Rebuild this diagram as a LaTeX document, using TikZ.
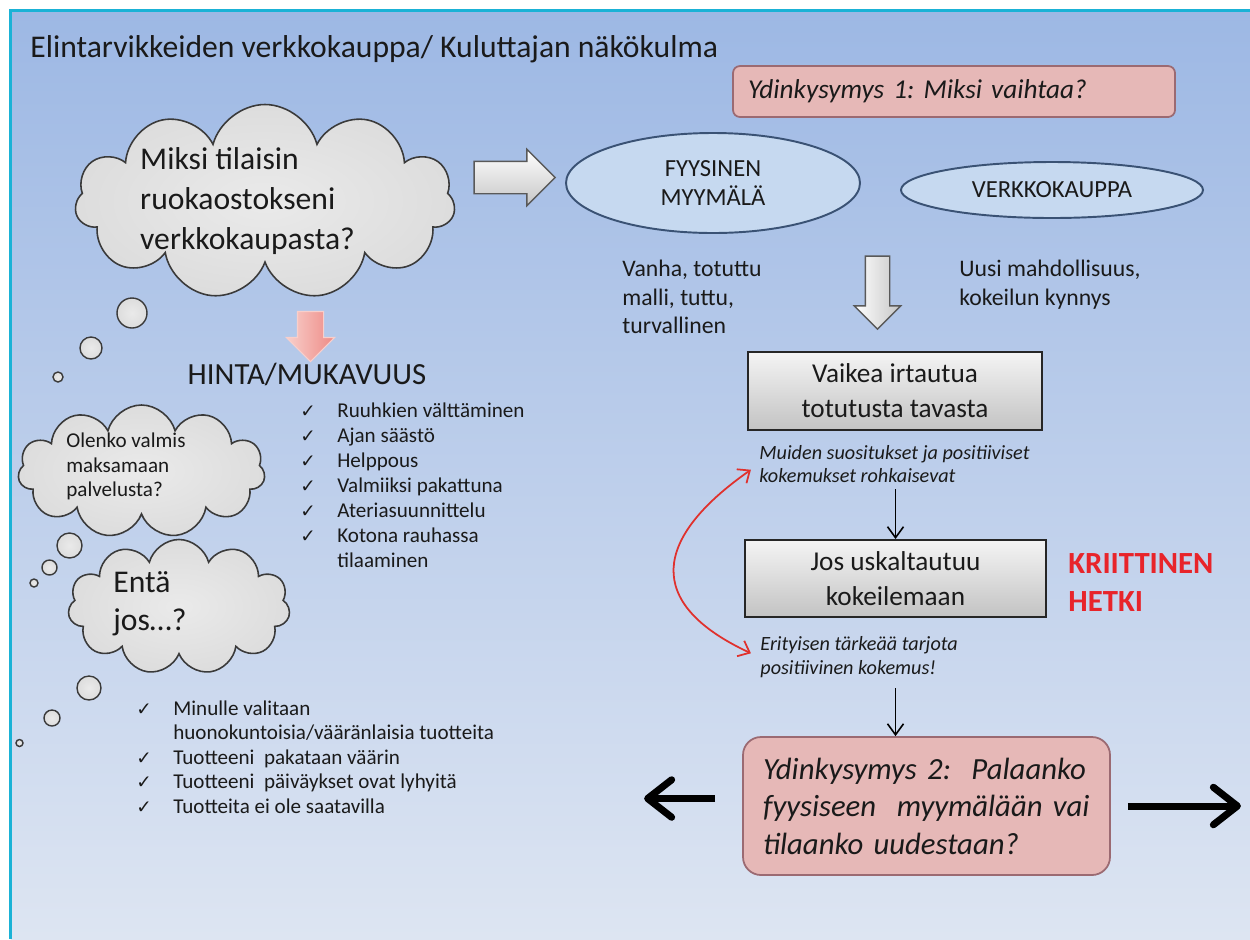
\documentclass[tikz,border=0pt]{standalone}
\usepackage{fontspec}
\setmainfont{Carlito}
\newfontfamily\checkfont{DejaVu Sans}
\usetikzlibrary{arrows.meta, positioning, shapes.geometric, shapes.symbols, shapes.arrows}
\definecolor{slidetop}{HTML}{9DB8E4}
\definecolor{slidebottom}{HTML}{DDE5F2}
\definecolor{frameline}{HTML}{1AB2D6}
\definecolor{ink}{HTML}{1A1A1A}
\definecolor{cloudfill}{HTML}{D9D9D9}
\definecolor{cloudedge}{HTML}{3A3A3A}
\definecolor{ellfill}{HTML}{C6D9F0}
\definecolor{elledge}{HTML}{3A5274}
\definecolor{rose}{HTML}{E6B8B7}
\definecolor{roseedge}{HTML}{9B6A72}
\definecolor{boxtop}{HTML}{F4F4F4}
\definecolor{boxbottom}{HTML}{C3C3C3}
\definecolor{arrowedge}{HTML}{595959}
\definecolor{pinktop}{HTML}{F8CFCB}
\definecolor{pinkbottom}{HTML}{EE8A85}
\definecolor{alert}{HTML}{E8242A}
\definecolor{arcred}{HTML}{E0312D}
\pgfdeclareradialshading{puffy}{\pgfpointorigin}{color(0bp)=(cloudfill!55!white); color(32bp)=(cloudfill); color(45bp)=(cloudfill!88!black); color(50bp)=(cloudfill!62!black)}
\newcommand{\okmark}{{\checkfont\fontsize{10.5}{11}\selectfont ✓}}
\tikzset{
  heading/.style={font=\fontsize{18}{21}\selectfont, text=ink, inner sep=0pt},
  question/.style={
    rectangle, rounded corners=4pt,
    draw=roseedge, fill=rose, line width=1pt,
    align=left, text=ink, inner ysep=0pt
  },
  cloudbox/.style={
    cloud, cloud puffs=11, cloud ignores aspect,
    draw=cloudedge, shade, shading=puffy, line width=0.9pt, inner sep=0pt
  },
  bubble/.style={draw=cloudedge, shade, shading=puffy, line width=0.8pt},
  thought/.style={font=\fontsize{18}{22.7}\selectfont, align=left, text=ink, inner sep=0pt},
  smallthought/.style={font=\fontsize{12}{13.9}\selectfont, align=left, text=ink, inner sep=0pt},
  blockarrow/.style={
    single arrow, inner xsep=0pt,
    draw=arrowedge, line width=0.8pt, top color=white, bottom color=gray!45
  },
  pinkarrow/.style={
    single arrow, inner xsep=0pt,
    draw=pinktop, line width=0.6pt, left color=pinktop, right color=pinkbottom
  },
  store/.style={
    ellipse, draw=elledge, fill=ellfill, line width=1.1pt,
    font=\fontsize{14}{17}\selectfont, align=center, text=ink, inner sep=0pt
  },
  note/.style={font=\fontsize{13.5}{16.4}\selectfont, align=left, text=ink, inner sep=0pt},
  stagebox/.style={
    rectangle, draw=black!85, line width=1.1pt,
    top color=boxtop, bottom color=boxbottom,
    font=\fontsize{15.5}{19.8}\selectfont, align=center, text=ink
  },
  hint/.style={font=\fontsize{11.5}{13.6}\selectfont\itshape, align=left, text=ink, inner sep=0pt},
  checklist/.style={font=\fontsize{12}{14.2}\selectfont, text=ink, inner sep=0pt, anchor=north west},
  alertlabel/.style={font=\fontsize{17.5}{22}\selectfont\bfseries, text=alert, align=left, inner sep=0pt},
  arrow/.style={-{Straight Barb[length=2.2mm,width=3.2mm]}, line width=0.9pt, draw=black},
  arcarrow/.style={
    {Straight Barb[length=2mm,width=3.4mm]}-{Straight Barb[length=2mm,width=3.4mm]},
    line width=1pt, draw=arcred
  },
  bigarrow/.style={-{Straight Barb[length=4.8mm,width=7.5mm,round]}, line width=4pt, draw=black},
}
\frenchspacing
\begin{document}
\begin{tikzpicture}
  \useasboundingbox (0,0) rectangle (25,-18.78);
  \fill[white] (0,0) rectangle (25,-18.78);
  \shade[top color=slidetop, bottom color=slidebottom] (0.21,-0.21) rectangle (25,-18.78);
  \draw[frameline, line width=1.2pt] (0.21,-18.78) -- (0.21,-0.21) -- (25,-0.21);

  \node[heading, anchor=west] (title) at (0.6,-0.98) {Elintarvikkeiden verkkokauppa/ Kuluttajan näkökulma};

  \node[question, minimum width=8.84cm, minimum height=1.02cm, text width=8.24cm, inner xsep=0.3cm,
        font=\fontsize{15.5}{19}\selectfont\itshape] (why) at (19.08,-1.83) {Ydinkysymys 1: Miksi vaihtaa?};

  \node[cloudbox, minimum width=7.6cm, minimum height=3.9cm] (bigcloud) at (5.3,-4.04) {};
  \node[thought] (whyonline) at (4.95,-4.02) {Miksi tilaisin\\ruokaostokseni\\verkkokaupasta?};

  \node[blockarrow, minimum height=1.62cm, inner ysep=0.31cm, single arrow head extend=0.24cm] (push) at (10.13,-3.55) {};

  \node[store, minimum width=5.88cm, minimum height=2cm] (shop) at (14.26,-3.66) {FYYSINEN\\MYYMÄLÄ};
  \node[store, minimum width=6.04cm, minimum height=1.12cm] (online) at (21.04,-3.8) {VERKKOKAUPPA};

  \node[note, anchor=west] (old) at (12.44,-5.94) {Vanha, totuttu\\malli, tuttu,\\turvallinen};
  \node[blockarrow, rotate=-90, left color=white, right color=gray!45, minimum height=1.46cm,
        inner ysep=0.23cm, single arrow head extend=0.22cm] (drop) at (17.55,-5.73) {};
  \node[note, anchor=west] (new) at (19.18,-5.7) {Uusi mahdollisuus,\\kokeilun kynnys};

  \draw[bubble] (2.64,-6.26) circle (0.3);
  \draw[bubble] (1.82,-6.96) circle (0.22);
  \draw[bubble] (1.16,-7.54) circle (0.1);

  \node[pinkarrow, rotate=-90, minimum height=1cm, inner ysep=0.25cm, single arrow head extend=0.22cm] (toprice) at (6.21,-6.6) {};
  \node[font=\fontsize{17.5}{20}\selectfont, text=ink, inner sep=0pt] (price) at (6.14,-7.48) {HINTA/MUKAVUUS};

  \node[cloudbox, minimum width=4.94cm, minimum height=2.66cm] (paycloud) at (2.83,-9.43) {};
  \node[smallthought, anchor=west] (pay) at (1.32,-9.33) {Olenko valmis\\maksamaan\\palvelusta?};

  \node[checklist] (pros) at (6.0,-7.99) {\begin{tabular}{@{}p{0.74cm}@{}l@{}}
    \okmark & Ruuhkien välttäminen\\
    \okmark & Ajan säästö\\
    \okmark & Helppous\\
    \okmark & Valmiiksi pakattuna\\
    \okmark & Ateriasuunnittelu\\
    \okmark & Kotona rauhassa\\
            & tilaaminen
  \end{tabular}};

  \draw[bubble] (1.39,-10.91) circle (0.25);
  \draw[bubble] (0.99,-11.35) circle (0.15);
  \draw[bubble] (0.68,-11.66) circle (0.08);

  \node[cloudbox, minimum width=4.44cm, minimum height=2.7cm] (whatcloud) at (3.58,-12.14) {};
  \node[thought, font=\fontsize{18}{21.5}\selectfont, anchor=west] (whatif) at (2.26,-12.08) {Entä\\jos…?};

  \draw[bubble] (1.78,-13.76) circle (0.24);
  \draw[bubble] (1.04,-14.36) circle (0.16);
  \draw[bubble] (0.39,-14.86) circle (0.07);

  \node[checklist, font=\fontsize{12}{14}\selectfont] (cons) at (2.72,-13.95) {\begin{tabular}{@{}p{0.74cm}@{}l@{}}
    \okmark & Minulle valitaan\\
            & huonokuntoisia/vääränlaisia tuotteita\\
    \okmark & Tuotteeni\ \ pakataan väärin\\
    \okmark & Tuotteeni\ \ päiväykset ovat lyhyitä\\
    \okmark & Tuotteita ei ole saatavilla
  \end{tabular}};

  \node[stagebox, minimum width=5.88cm, minimum height=1.56cm] (hard) at (17.9,-7.82) {Vaikea irtautua\\totutusta tavasta};
  \node[hint] (others) at (17.89,-9.28) {Muiden suositukset ja positiiviset\\kokemukset rohkaisevat};
  \node[stagebox, minimum width=6.02cm, minimum height=1.54cm] (try) at (17.91,-11.57) {Jos uskaltautuu\\kokeilemaan};
  \node[alertlabel, anchor=west] (critical) at (21.36,-11.65) {KRIITTINEN\\HETKI};
  \node[hint, anchor=west] (special) at (15.2,-13.15) {Erityisen tärkeää tarjota\\positiivinen kokemus!};

  \node[question, rounded corners=0.36cm, minimum width=7.34cm, minimum height=2.76cm, text width=6.54cm,
        inner xsep=0.4cm, font=\fontsize{17.5}{21.3}\selectfont\itshape] (again) at (18.53,-16.12)
        {Ydinkysymys 2:\ \ Palaanko\\fyysiseen\ \ myymälään vai\\tilaanko uudestaan?};

  \coordinate[left=1.96cm of again.west] (back);
  \coordinate[right=2.6cm of again.east] (stay);

  \draw[arrow, shorten <=0.12cm] (others.south -| try.north) -- (try.north);
  \draw[arrow, shorten <=0.2cm] (special.south -| try.south) -- (try.south |- again.north);
  \draw[arcarrow, shorten <=0.2cm, shorten >=0.2cm] (others.west) to[out=215, in=155, looseness=1.7] (special.west);
  \draw[bigarrow, shorten <=0.54cm] ([yshift=0.15cm]again.west) -- ([yshift=0.15cm]back);
  \draw[bigarrow, shorten <=0.34cm] (again.east) -- (stay);
\end{tikzpicture}
\end{document}
